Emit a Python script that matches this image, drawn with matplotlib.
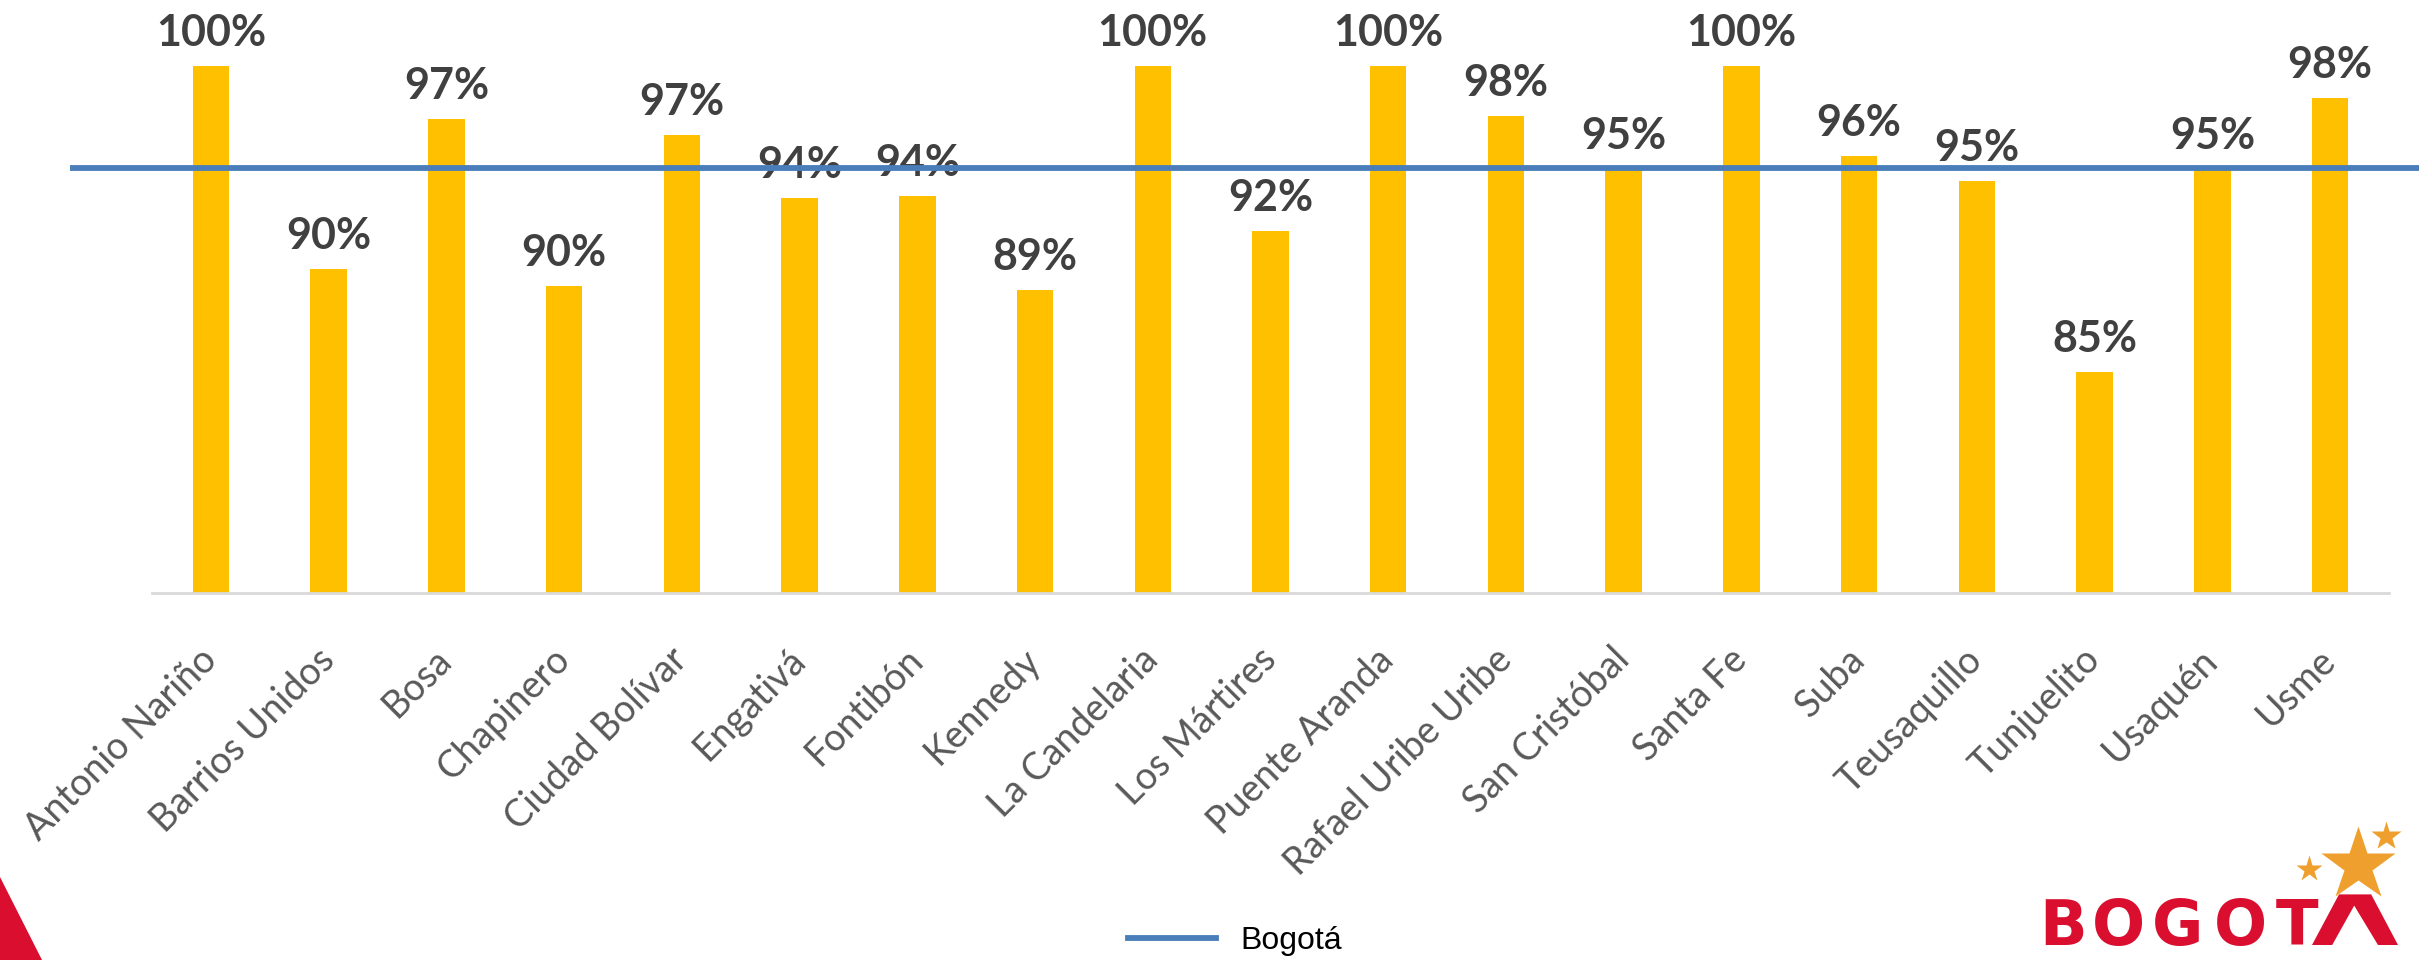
import matplotlib
matplotlib.use("Agg")
import matplotlib.pyplot as plt
from matplotlib.patches import Polygon
import numpy as np

localidades = ["Antonio Nariño", "Barrios Unidos", "Bosa", "Chapinero", "Ciudad Bolívar",
               "Engativá", "Fontibón", "Kennedy", "La Candelaria", "Los Mártires",
               "Puente Aranda", "Rafael Uribe Uribe", "San Cristóbal", "Santa Fe", "Suba",
               "Teusaquillo", "Tunjuelito", "Usaquén", "Usme"]
cobertura = [1.0, 0.9035, 0.9745, 0.8956, 0.9673, 0.9371, 0.9380, 0.8938, 1.0, 0.9216,
             1.0, 0.9760, 0.9510, 1.0, 0.9573, 0.9453, 0.8546, 0.9510, 0.9847]
bogota = 0.9516
serie_linea = "Bogotá"

W, H = 2432, 960
fig = plt.figure(figsize=(W / 100, H / 100), dpi=100)

bottom = 1 - 593 / H
height = (593 - 65.7) / H
ax = fig.add_axes([152 / W, bottom, (2389 - 152) / W, height])
x = np.arange(len(localidades))
ax.bar(x, cobertura, width=0.31, color="#FFC000", zorder=2)
ax.set_xlim(-0.5, len(localidades) - 0.5)
ax.set_ylim(0.75, 1.0)
for s in ["top", "right", "left"]:
    ax.spines[s].set_visible(False)
ax.spines["bottom"].set_color("#D9D9D9")
ax.spines["bottom"].set_linewidth(2)
ax.set_yticks([])
ax.set_xticks(x)
ax.set_xticklabels(localidades, rotation=45, ha="right", va="center",
                   rotation_mode="anchor", fontsize=27, color="#595959",
                   family="Lato", fontweight="normal")
ax.tick_params(axis="x", length=0, pad=44)

for xi, v in zip(x, cobertura):
    ax.annotate(f"{v * 100:.0f}%", (xi, v), xytext=(0, 14.4), textcoords="offset points",
                ha="center", va="baseline", fontsize=31, fontweight="bold",
                family="Lato", color="#404040", annotation_clip=False, zorder=3)

ax2 = fig.add_axes([70 / W, bottom, (2419 - 70) / W, height], zorder=5)
ax2.patch.set_alpha(0)
ax2.axhline(bogota, color="#4A7EBB", lw=4.2, label=serie_linea)
ax2.set_ylim(0.75, 1.0)
ax2.axis("off")

h, l = ax2.get_legend_handles_labels()
fig.legend(h, l, loc="center", bbox_to_anchor=(1235 / W, 1 - 941 / H), frameon=False,
           handlelength=2.76, handletextpad=0.75,
           prop={"family": "Liberation Sans", "size": 23})

# decorative logos
lg = fig.add_axes([0, 0, 1, 1], zorder=0)
lg.set_xlim(0, W)
lg.set_ylim(H, 0)
lg.axis("off")
red = "#DA0E2F"
lg.add_patch(Polygon([(0, 877), (42, 960), (0, 960)], closed=True, color=red, lw=0))
dy = -12
for ch, cx in zip("BOGOT", [2063, 2118, 2178, 2240, 2297]):
    lg.text(cx, 957 + dy, ch, ha="center", va="baseline", fontsize=45, fontweight="bold",
            family="DejaVu Sans", color=red)
lg.add_patch(Polygon([(2312, 957 + dy), (2339, 906.4 + dy), (2371.2, 906.4 + dy),
                      (2398, 957 + dy), (2378, 957 + dy), (2354.2, 917.6 + dy),
                      (2332.2, 957 + dy)], closed=True, color=red, lw=0))
orange = "#EF9F2D"
lg.plot([2357.6], [877 + dy], marker="*", ms=56, color=orange, mec="none", ls="none")
lg.plot([2309], [881 + dy], marker="*", ms=20, color=orange, mec="none", ls="none")
lg.plot([2386], [848 + dy], marker="*", ms=22, color=orange, mec="none", ls="none")

fig.savefig("out.png", dpi=100)
